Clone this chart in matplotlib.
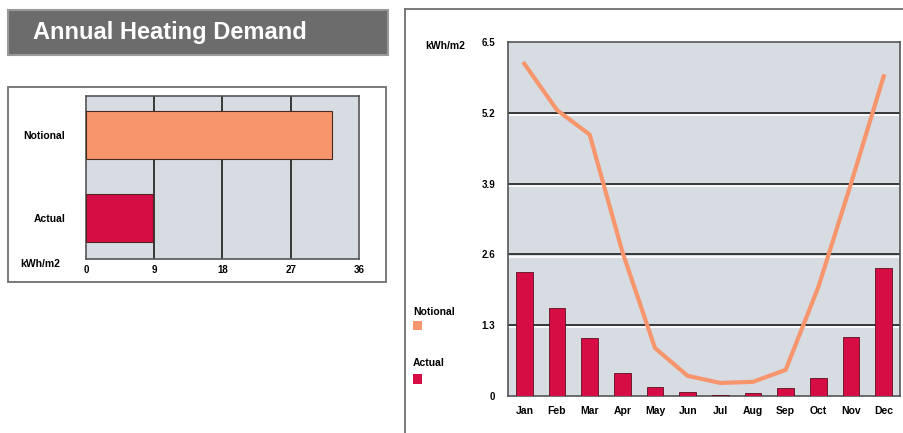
import matplotlib
matplotlib.use("Agg")
import matplotlib.pyplot as plt
import matplotlib.patches as mpatches
import matplotlib.transforms as mtransforms
import numpy as np

# annual totals, kWh/m2
annual_labels = ["Actual", "Notional"]
annual_values = [8.9, 32.5]
annual_ticks = [0, 9, 18, 27, 36]

# monthly demand, kWh/m2
months = ["Jan", "Feb", "Mar", "Apr", "May", "Jun",
          "Jul", "Aug", "Sep", "Oct", "Nov", "Dec"]
notional = [6.1, 5.25, 4.8, 2.65, 0.88, 0.37, 0.24, 0.26, 0.48, 2.0, 3.9, 5.87]
actual = [2.28, 1.62, 1.07, 0.42, 0.17, 0.07, 0.02, 0.05, 0.15, 0.33, 1.09, 2.35]
month_ticks = [0, 1.3, 2.6, 3.9, 5.2, 6.5]

ORANGE = "#f7956c"
CRIMSON = "#d60d45"
PANEL = "#d7dbe2"
GRID = "#2a2a2a"
FONT = ["Liberation Sans Narrow", "Liberation Sans", "DejaVu Sans"]

W, H = 904, 433
fig = plt.figure(figsize=(W / 100, H / 100), dpi=100)
fig.patch.set_facecolor("white")


def px_axes(x0, y0, x1, y1, **kw):
    return fig.add_axes([x0 / W, 1 - y1 / H, (x1 - x0) / W, (y1 - y0) / H], **kw)


# background layer for frames and the banner
bg = px_axes(0, 0, W, H, zorder=0)
bg.set_xlim(0, W)
bg.set_ylim(H, 0)
bg.axis("off")

bg.add_patch(mpatches.Rectangle((8, 10), 380, 45, facecolor="#6c6c6c",
                                edgecolor="#9a9a9a", lw=1.5))
bg.text(33, 33, "Annual Heating Demand", color="white", fontsize=17,
        fontweight="bold", family=FONT, va="center", ha="left")
bg.add_patch(mpatches.Rectangle((8, 87), 378, 195, facecolor="white",
                                edgecolor="#707070", lw=1.3))
bg.plot([405, 405], [H, 9], color="#707070", lw=1.3)
bg.plot([405, W], [9, 9], color="#707070", lw=1.3)

# annual bar chart
ax1 = px_axes(86, 96, 359, 259, zorder=2)
ax1.set_facecolor(PANEL)
ax1.barh([0, 1], annual_values, height=0.58, color=[CRIMSON, ORANGE],
         edgecolor="#4a2a20", lw=0.8, zorder=3)
for v in annual_ticks[1:-1]:
    ax1.axvline(v, color=GRID, lw=1.3, zorder=2)
ax1.set_xlim(0, 36)
ax1.set_ylim(-0.5, 1.47)
ax1.set_xticks(annual_ticks)
ax1.set_xticklabels([str(t) for t in annual_ticks], family=FONT,
                    fontsize=7, fontweight="bold")
ax1.set_yticks([0, 1])
ax1.set_yticklabels(annual_labels, family=FONT, fontsize=7.5,
                    fontweight="bold")
ax1.tick_params(length=0, pad=4)
ax1.tick_params(axis="y", pad=15)
for s in ax1.spines.values():
    s.set_color("#555555")
    s.set_linewidth(1.2)
bg.text(40, 264, "kWh/m2", family=FONT, fontsize=7.5, fontweight="bold",
        ha="center", va="center")

# monthly chart
ax2 = px_axes(508, 42, 900, 396, zorder=2)
ax2.set_facecolor(PANEL)
x = np.arange(len(months))
ax2.bar(x, actual, width=0.52, color=CRIMSON, edgecolor="#5a1020",
        lw=0.6, zorder=3)
ax2.plot(x, notional, color=ORANGE, lw=3.0, zorder=4)
# dark gridlines with a white highlight just beneath
shift = mtransforms.offset_copy(ax2.get_yaxis_transform(), fig=fig,
                                x=0, y=-1.6, units="points")
for v in month_ticks[1:-1]:
    ax2.plot([0, 1], [v, v], color="white", lw=1.2, zorder=2, transform=shift)
    ax2.axhline(v, color=GRID, lw=1.3, zorder=2)
ax2.set_xlim(-0.5, 11.5)
ax2.set_ylim(0, 6.5)
ax2.set_xticks(x)
ax2.set_xticklabels(months, family=FONT, fontsize=7.5, fontweight="bold")
ax2.set_yticks(month_ticks)
ax2.set_yticklabels(["0", "1.3", "2.6", "3.9", "5.2", "6.5"], family=FONT,
                    fontsize=7, fontweight="bold")
ax2.tick_params(length=0, pad=7)
ax2.tick_params(axis="y", pad=9)
for s in ax2.spines.values():
    s.set_color("#555555")
    s.set_linewidth(1.2)
bg.text(445, 46, "kWh/m2", family=FONT, fontsize=7.5, fontweight="bold",
        ha="center", va="center")

# legend
bg.text(413, 312, "Notional", family=FONT, fontsize=7.5, fontweight="bold",
        ha="left", va="center")
bg.add_patch(mpatches.Rectangle((413, 321), 9, 9, facecolor=ORANGE,
                                edgecolor="none"))
bg.text(413, 363, "Actual", family=FONT, fontsize=7.5, fontweight="bold",
        ha="left", va="center")
bg.add_patch(mpatches.Rectangle((413, 374), 9, 10, facecolor=CRIMSON,
                                edgecolor="none"))

fig.savefig("out.png", dpi=100)
